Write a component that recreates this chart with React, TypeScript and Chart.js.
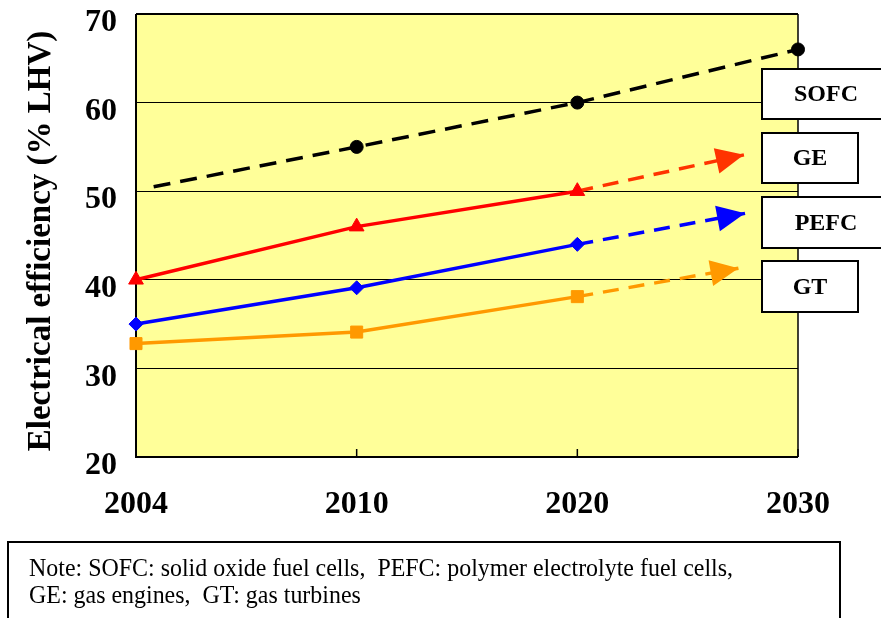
import React, { useEffect, useRef } from 'react';
import { Chart, registerables } from 'chart.js';

Chart.register(...registerables);

// ---- data ----
const YEARS = ['2004', '2010', '2020', '2030'];
const Y_TICKS = [20, 30, 40, 50, 60, 70];

// x = position on the category axis (0 = 2004, 1 = 2010, 2 = 2020, 3 = 2030)
const SOFC_X = [0.08, 1, 2, 3];
const SOFC_Y = [50.5, 55, 60, 66];

const GE_X = [0, 1, 2];
const GE_Y = [40, 46, 50];
const GE_TREND_X = [2, 2.755];
const GE_TREND_Y = [50, 54.1];

const PEFC_X = [0, 1, 2];
const PEFC_Y = [35, 39.1, 44];
const PEFC_TREND_X = [2, 2.76];
const PEFC_TREND_Y = [44, 47.5];

const GT_X = [0, 1, 2];
const GT_Y = [32.8, 34.1, 38.1];
const GT_TREND_X = [2, 2.73];
const GT_TREND_Y = [38.1, 41.3];

const LEGEND_LABELS = ['SOFC', 'GE', 'PEFC', 'GT'];
const Y_TITLE = 'Electrical efficiency (% LHV)';
const NOTE_LINES = [
  'Note: SOFC: solid oxide fuel cells,  PEFC: polymer electrolyte fuel cells,',
  'GE: gas engines,  GT: gas turbines',
];

const SERIF = '"Liberation Serif", "Times New Roman", Times, serif';

const zip = (xs: number[], ys: number[]) => xs.map((x, i) => ({ x, y: ys[i] }));

const framePlugin = {
  id: 'frame',
  beforeDraw(chart: any) {
    const { ctx, chartArea: a } = chart;
    ctx.save();
    ctx.fillStyle = '#ffffff';
    ctx.fillRect(0, 0, chart.width, chart.height);
    ctx.fillStyle = '#FFFF99';
    ctx.fillRect(a.left, a.top, a.right - a.left, a.bottom - a.top);
    ctx.restore();
  },
  beforeDatasetsDraw(chart: any) {
    const { ctx, chartArea: a } = chart;
    const xs = chart.scales.x;
    ctx.save();
    ctx.strokeStyle = '#000';
    ctx.lineWidth = 2;
    ctx.beginPath();
    ctx.moveTo(a.left, a.top);
    ctx.lineTo(a.left, a.bottom);
    ctx.lineTo(a.right, a.bottom);
    ctx.moveTo(a.left, a.top);
    ctx.lineTo(a.right, a.top);
    ctx.stroke();
    ctx.lineWidth = 1.5;
    ctx.beginPath();
    ctx.moveTo(a.right, a.top);
    ctx.lineTo(a.right, a.bottom);
    ctx.stroke();
    // inward tick marks on the x axis
    YEARS.forEach((_, i) => {
      const px = xs.getPixelForValue(i);
      ctx.beginPath();
      ctx.moveTo(px, a.bottom);
      ctx.lineTo(px, a.bottom - 8);
      ctx.stroke();
    });
    ctx.restore();
  },
  afterDatasetsDraw(chart: any) {
    const { ctx } = chart;
    chart.data.datasets.forEach((ds: any, i: number) => {
      if (!ds.arrowHead) return;
      const pts = chart.getDatasetMeta(i).data;
      const n = pts.length;
      const tip = pts[n - 1];
      const prev = pts[n - 2];
      const ang = Math.atan2(tip.y - prev.y, tip.x - prev.x);
      const L = 28;
      const W = 13;
      const bx = tip.x - L * Math.cos(ang);
      const by = tip.y - L * Math.sin(ang);
      const nx = -Math.sin(ang);
      const ny = Math.cos(ang);
      ctx.save();
      ctx.fillStyle = ds.borderColor;
      ctx.beginPath();
      ctx.moveTo(tip.x, tip.y);
      ctx.lineTo(bx + nx * W, by + ny * W);
      ctx.lineTo(bx - nx * W, by - ny * W);
      ctx.closePath();
      ctx.fill();
      ctx.restore();
    });
  },
  afterDraw(chart: any) {
    const { ctx } = chart;
    ctx.save();
    // legend boxes
    const boxes = [
      { y: 69, h: 50, w: 128 },
      { y: 133, h: 50, w: 96 },
      { y: 197, h: 51, w: 128 },
      { y: 261, h: 51, w: 96 },
    ];
    const bx = 762;
    LEGEND_LABELS.forEach((lab, i) => {
      const b = boxes[i];
      ctx.fillStyle = '#fff';
      ctx.fillRect(bx, b.y, b.w, b.h);
      ctx.strokeStyle = '#000';
      ctx.lineWidth = 2;
      ctx.strokeRect(bx, b.y, b.w, b.h);
      ctx.fillStyle = '#000';
      ctx.font = `bold 24px ${SERIF}`;
      ctx.textAlign = 'center';
      ctx.textBaseline = 'middle';
      ctx.fillText(lab, bx + b.w / 2, b.y + b.h / 2 + 1);
    });
    // y-axis title
    ctx.save();
    ctx.translate(41, 241);
    ctx.rotate(-Math.PI / 2);
    ctx.font = `bold 33px ${SERIF}`;
    ctx.fillStyle = '#000';
    ctx.textAlign = 'center';
    ctx.textBaseline = 'middle';
    ctx.fillText(Y_TITLE, 0, 0);
    ctx.restore();
    // note box
    ctx.strokeStyle = '#000';
    ctx.lineWidth = 2;
    ctx.strokeRect(8, 542, 832, 120);
    ctx.font = `25px ${SERIF}`;
    ctx.fillStyle = '#000';
    ctx.textAlign = 'left';
    ctx.textBaseline = 'alphabetic';
    const sx = 704 / ctx.measureText(NOTE_LINES[0]).width;
    NOTE_LINES.forEach((line, i) => {
      ctx.save();
      ctx.translate(29, 576 + i * 27);
      ctx.scale(sx, 1);
      ctx.fillText(line, 0, 0);
      ctx.restore();
    });
    ctx.restore();
  },
};

export default function App() {
  const ref = useRef<HTMLCanvasElement | null>(null);
  useEffect(() => {
    if (!ref.current) return;
    const common = { tension: 0, clip: false as any, pointBorderWidth: 1 };
    const chart = new Chart(ref.current, {
      type: 'line',
      data: {
        datasets: [
          {
            ...common,
            label: 'SOFC',
            data: zip(SOFC_X, SOFC_Y),
            borderColor: '#000000',
            backgroundColor: '#000000',
            borderWidth: 3.5,
            borderDash: [17, 10],
            pointStyle: 'circle',
            pointRadius: [0, 6.5, 6.5, 6.5],
          },
          {
            ...common,
            label: 'GE',
            data: zip(GE_X, GE_Y),
            borderColor: '#FF0000',
            backgroundColor: '#FF0000',
            borderWidth: 3.5,
            pointStyle: 'triangle',
            pointRadius: 8.5,
          },
          {
            ...common,
            label: 'PEFC',
            data: zip(PEFC_X, PEFC_Y),
            borderColor: '#0000FF',
            backgroundColor: '#0000FF',
            borderWidth: 3.5,
            pointStyle: 'rectRot',
            pointRadius: 7,
          },
          {
            ...common,
            label: 'GT',
            data: zip(GT_X, GT_Y),
            borderColor: '#FF9900',
            backgroundColor: '#FF9900',
            borderWidth: 3.5,
            pointStyle: 'rect',
            pointRadius: 8.5,
          },
          {
            ...common,
            label: 'GE trend',
            data: zip(GE_TREND_X, GE_TREND_Y),
            borderColor: '#FF3300',
            borderWidth: 3.5,
            borderDash: [16, 10],
            pointRadius: 0,
            arrowHead: true,
          } as any,
          {
            ...common,
            label: 'PEFC trend',
            data: zip(PEFC_TREND_X, PEFC_TREND_Y),
            borderColor: '#0000FF',
            borderWidth: 3.5,
            borderDash: [16, 10],
            pointRadius: 0,
            arrowHead: true,
          } as any,
          {
            ...common,
            label: 'GT trend',
            data: zip(GT_TREND_X, GT_TREND_Y),
            borderColor: '#FF9900',
            borderWidth: 3.5,
            borderDash: [16, 10],
            pointRadius: 0,
            arrowHead: true,
          } as any,
        ],
      },
      options: {
        animation: false,
        responsive: false,
        events: [],
        layout: { padding: { top: 14, right: 83, left: 0, bottom: 0 } },
        plugins: { legend: { display: false }, tooltip: { enabled: false } },
        scales: {
          x: {
            type: 'linear',
            min: 0,
            max: 3,
            afterBuildTicks: (s: any) => {
              s.ticks = YEARS.map((_, i) => ({ value: i }));
            },
            afterFit: (s: any) => {
              s.height = 161;
              s.paddingLeft = 0;
              s.paddingRight = 0;
            },
            grid: { display: false, drawTicks: false },
            border: { display: false },
            ticks: {
              autoSkip: false,
              maxRotation: 0,
              padding: 29,
              color: '#000',
              font: { family: SERIF, size: 32, weight: 'bold' },
              callback: (v: any) => YEARS[Math.round(Number(v))],
            },
          },
          y: {
            min: 20,
            max: 70,
            afterBuildTicks: (s: any) => {
              s.ticks = Y_TICKS.map((v) => ({ value: v }));
            },
            afterFit: (s: any) => {
              s.width = 136;
              s.paddingTop = 0;
              s.paddingBottom = 0;
            },
            grid: { color: '#000', lineWidth: 1, drawTicks: false },
            border: { display: false },
            ticks: {
              padding: 19,
              labelOffset: 9,
              color: '#000',
              font: { family: SERIF, size: 32, weight: 'bold' },
            },
          },
        },
      } as any,
      plugins: [framePlugin],
    });
    return () => chart.destroy();
  }, []);
  return (
    <div style={{ position: 'fixed', left: 0, top: 0, width: 881, height: 618, background: '#fff' }}>
      <canvas ref={ref} width={881} height={618} style={{ display: 'block' }} />
    </div>
  );
}
